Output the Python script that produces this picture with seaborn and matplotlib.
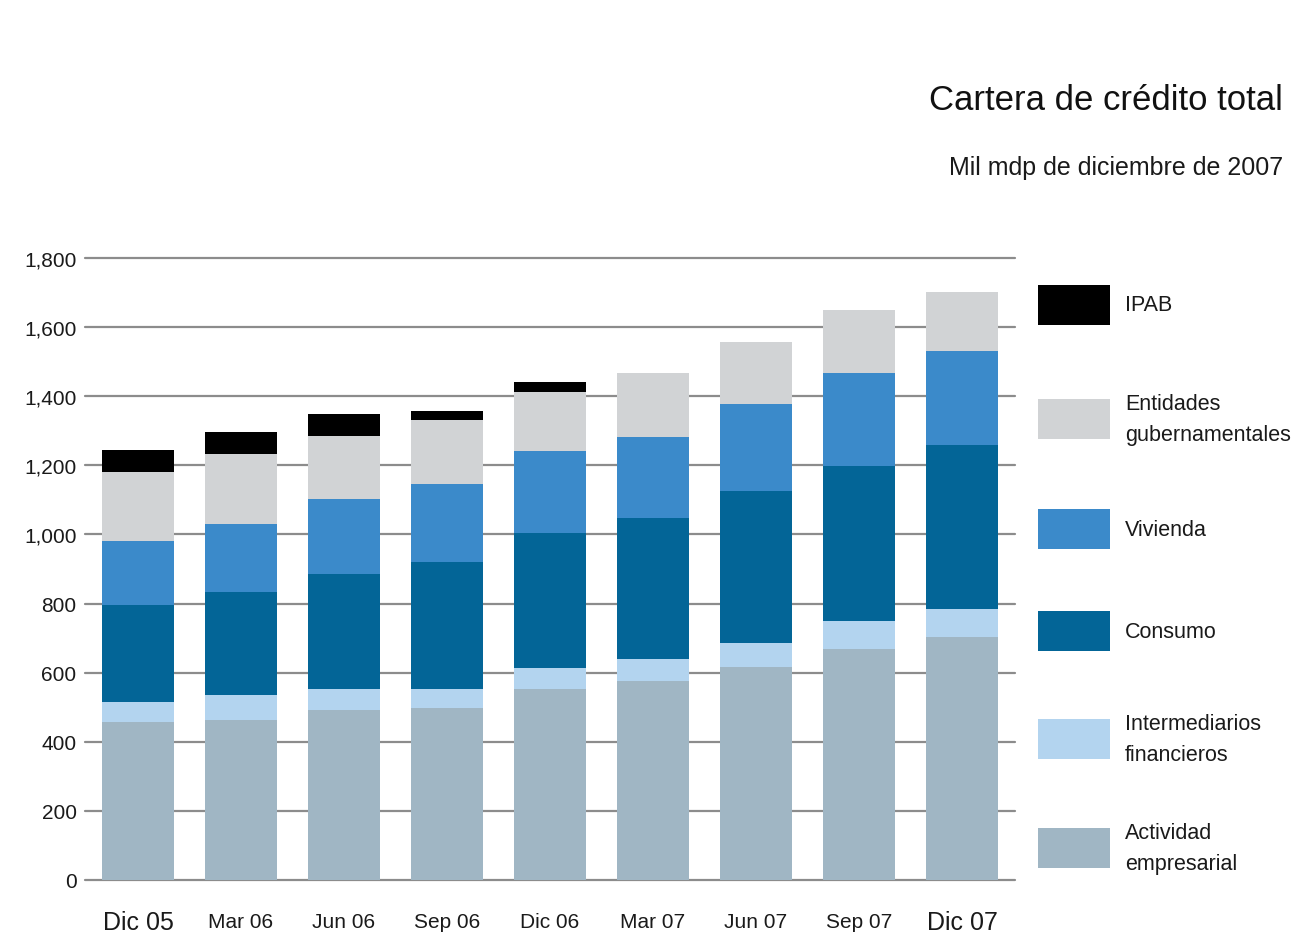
import numpy as np
import pandas as pd
import matplotlib
matplotlib.use("Agg")
import matplotlib.pyplot as plt
from matplotlib.patches import Rectangle
import seaborn as sns

# Data (mil mdp de diciembre de 2007)
periodos = ["Dic 05", "Mar 06", "Jun 06", "Sep 06", "Dic 06",
            "Mar 07", "Jun 07", "Sep 07", "Dic 07"]
actividad = [456, 463, 492, 499, 552, 576, 615, 668, 703]
intermediarios = [60, 71, 60, 53, 61, 64, 70, 82, 82]
consumo = [281, 298, 333, 367, 390, 408, 440, 447, 474]
vivienda = [183, 199, 218, 228, 237, 235, 253, 271, 273]
entidades = [202, 202, 183, 184, 172, 184, 180, 182, 170]
ipab = [61, 63, 63, 25, 30, 0, 0, 0, 0]

series = [
    ("Actividad\nempresarial", actividad, "#a0b6c4"),
    ("Intermediarios\nfinancieros", intermediarios, "#b3d4ef"),
    ("Consumo", consumo, "#036597"),
    ("Vivienda", vivienda, "#3b8aca"),
    ("Entidades\ngubernamentales", entidades, "#d1d3d5"),
    ("IPAB", ipab, "#000000"),
]

sns.set_style("white")
plt.rcParams["font.family"] = ["Liberation Sans Narrow", "Liberation Sans", "DejaVu Sans"]

fig = plt.figure(figsize=(12.95, 9.37), dpi=100)
ax = fig.add_axes([0.0656, 0.0598, 0.7182, 0.6638])

bottom = np.zeros(len(periodos))
for nombre, vals, color in series:
    df = pd.DataFrame({"periodo": periodos, "valor": vals})
    sns.barplot(data=df, x="periodo", y="valor", color=color, bottom=bottom,
                width=0.69, ax=ax, linewidth=0, saturation=1)
    bottom = bottom + np.array(vals)

ax.set_xlim(-0.515, len(periodos) - 0.485)
ax.set_ylim(0, 1800)
ax.set_yticks(range(0, 1801, 200))
ax.set_yticklabels([f"{v:,}" for v in range(0, 1801, 200)], fontsize=15, color="#1a1a1a")
ax.yaxis.grid(True, color="#8c8c8c", linewidth=1.6)
for gl in ax.get_ygridlines():
    gl.set_clip_on(False)
ax.set_axisbelow(True)
ax.tick_params(axis="y", length=0, pad=6)
ax.tick_params(axis="x", length=0, pad=30)
for s in ax.spines.values():
    s.set_visible(False)
ax.set_xlabel("")
ax.set_ylabel("")

ax.set_xticks(range(len(periodos)))
ax.set_xticklabels(periodos)
for i, lbl in enumerate(ax.get_xticklabels()):
    big = i in (0, len(periodos) - 1)
    lbl.set_fontsize(18 if big else 15)
    lbl.set_color("#1a1a1a")
    lbl.set_va("center")

# Title
fig.text(0.991, 1 - 100 / 937, "Cartera de crédito total", ha="right", va="center",
         fontsize=25, color="#111111")
fig.text(0.991, 1 - 168 / 937, "Mil mdp de diciembre de 2007", ha="right", va="center",
         fontsize=18, color="#1a1a1a")

# Legend (top to bottom)
leg_y = [306, 420, 530, 632, 740, 849]
for (nombre, vals, color), yc in zip(reversed(series), leg_y):
    y0 = (937 - yc - 20) / 937
    fig.add_artist(Rectangle((1038 / 1295, y0), 72 / 1295, 40 / 937,
                             transform=fig.transFigure, color=color, lw=0))
    fig.text(1125 / 1295, (937 - yc) / 937, nombre, ha="left", va="center",
             fontsize=15.5, color="#1a1a1a", linespacing=1.6)

fig.savefig("out.png", dpi=100)
